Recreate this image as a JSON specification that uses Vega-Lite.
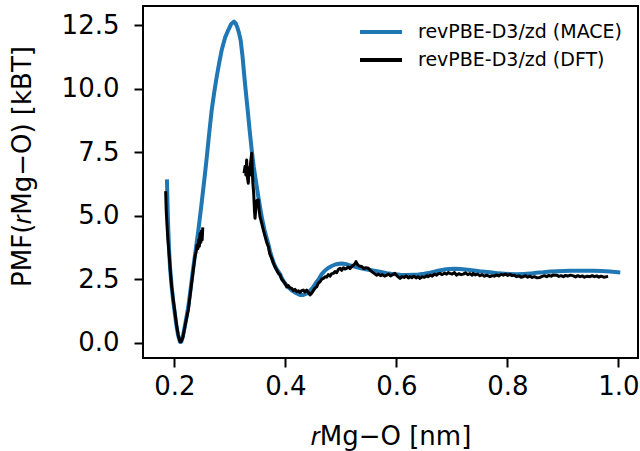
{
  "$schema": "https://vega.github.io/schema/vega-lite/v6.json",
  "width": 495,
  "height": 352,
  "autosize": {"type": "none"},
  "padding": {"left": 143, "top": 6, "right": 2, "bottom": 93},
  "background": "white",
  "config": {
    "font": "DejaVu Sans",
    "view": {"stroke": "black", "strokeWidth": 2},
    "axis": {
      "domain": false, "grid": false,
      "tickColor": "black", "tickWidth": 2, "tickSize": 9,
      "labelFont": "DejaVu Sans", "labelFontSize": 26, "labelColor": "black",
      "titleFont": "DejaVu Sans", "titleFontSize": 26, "titleFontWeight": "normal", "titleColor": "black"
    }
  },
  "datasets": {
    "mace": [
      {"r":0.1868,"pmf":6.35},{"r":0.1875,"pmf":5.7},{"r":0.1882,"pmf":5.1},{"r":0.189,"pmf":4.55},{"r":0.1905,"pmf":3.7},
      {"r":0.1925,"pmf":2.9},{"r":0.1953,"pmf":2.2},{"r":0.198,"pmf":1.65},{"r":0.2013,"pmf":1.1},{"r":0.204,"pmf":0.65},
      {"r":0.207,"pmf":0.28},{"r":0.2103,"pmf":0.03},{"r":0.2125,"pmf":0.03},{"r":0.2155,"pmf":0.25},{"r":0.219,"pmf":0.65},
      {"r":0.222,"pmf":1.02},{"r":0.2252,"pmf":1.42},{"r":0.229,"pmf":2.05},{"r":0.233,"pmf":2.75},{"r":0.2373,"pmf":3.45},
      {"r":0.2432,"pmf":4.4},{"r":0.249,"pmf":5.45},{"r":0.2553,"pmf":6.65},{"r":0.2584,"pmf":7.28},{"r":0.2629,"pmf":8.25},
      {"r":0.2674,"pmf":9.16},{"r":0.2719,"pmf":9.85},{"r":0.2764,"pmf":10.47},{"r":0.2809,"pmf":11.02},{"r":0.2854,"pmf":11.52},
      {"r":0.2913,"pmf":12.0},{"r":0.2973,"pmf":12.31},{"r":0.3025,"pmf":12.55},{"r":0.3076,"pmf":12.64},{"r":0.3105,"pmf":12.58},
      {"r":0.3135,"pmf":12.42},{"r":0.3165,"pmf":12.2},{"r":0.3196,"pmf":11.9},{"r":0.3228,"pmf":11.3},{"r":0.3261,"pmf":10.5},
      {"r":0.3292,"pmf":9.8},{"r":0.3322,"pmf":9.16},{"r":0.3358,"pmf":8.35},{"r":0.3394,"pmf":7.6},{"r":0.343,"pmf":6.95},
      {"r":0.3475,"pmf":6.3},{"r":0.351,"pmf":5.8},{"r":0.3544,"pmf":5.35},{"r":0.3584,"pmf":4.85},{"r":0.3624,"pmf":4.45},
      {"r":0.366,"pmf":4.15},{"r":0.3695,"pmf":3.88},{"r":0.3725,"pmf":3.6},{"r":0.3755,"pmf":3.38},{"r":0.3785,"pmf":3.18},
      {"r":0.3815,"pmf":3.02},{"r":0.3845,"pmf":2.9},{"r":0.3875,"pmf":2.8},{"r":0.3905,"pmf":2.7},{"r":0.3935,"pmf":2.55},
      {"r":0.397,"pmf":2.42},{"r":0.4,"pmf":2.32},{"r":0.4054,"pmf":2.18},{"r":0.412,"pmf":2.05},{"r":0.42,"pmf":1.95},
      {"r":0.4265,"pmf":1.88},{"r":0.4325,"pmf":1.88},{"r":0.438,"pmf":1.93},{"r":0.444,"pmf":2.03},{"r":0.45,"pmf":2.18},
      {"r":0.455,"pmf":2.35},{"r":0.4595,"pmf":2.48},{"r":0.4656,"pmf":2.7},{"r":0.4706,"pmf":2.82},{"r":0.4766,"pmf":2.93},
      {"r":0.4836,"pmf":3.02},{"r":0.49,"pmf":3.08},{"r":0.4966,"pmf":3.11},{"r":0.5016,"pmf":3.12},{"r":0.508,"pmf":3.1},
      {"r":0.515,"pmf":3.05},{"r":0.5246,"pmf":3.0},{"r":0.5346,"pmf":2.94},{"r":0.545,"pmf":2.89},{"r":0.5575,"pmf":2.84},
      {"r":0.5706,"pmf":2.79},{"r":0.583,"pmf":2.74},{"r":0.596,"pmf":2.7},{"r":0.6067,"pmf":2.68},{"r":0.6187,"pmf":2.67},
      {"r":0.63,"pmf":2.68},{"r":0.64,"pmf":2.69},{"r":0.65,"pmf":2.72},{"r":0.6607,"pmf":2.76},{"r":0.6707,"pmf":2.81},
      {"r":0.68,"pmf":2.85},{"r":0.69,"pmf":2.89},{"r":0.6967,"pmf":2.9},{"r":0.705,"pmf":2.91},{"r":0.7147,"pmf":2.9},
      {"r":0.7237,"pmf":2.88},{"r":0.7327,"pmf":2.86},{"r":0.75,"pmf":2.81},{"r":0.7688,"pmf":2.77},{"r":0.785,"pmf":2.73},
      {"r":0.8,"pmf":2.71},{"r":0.8168,"pmf":2.7},{"r":0.83,"pmf":2.71},{"r":0.84,"pmf":2.72},{"r":0.8525,"pmf":2.75},
      {"r":0.8649,"pmf":2.77},{"r":0.878,"pmf":2.8},{"r":0.89,"pmf":2.81},{"r":0.913,"pmf":2.83},{"r":0.935,"pmf":2.83},
      {"r":0.955,"pmf":2.83},{"r":0.97,"pmf":2.82},{"r":0.985,"pmf":2.8},{"r":1.0,"pmf":2.77}
    ],
    "dft": [
      {"r":0.1845,"pmf":5.91,"seg":1},{"r":0.1853,"pmf":5.3,"seg":1},{"r":0.1863,"pmf":4.83,"seg":1},{"r":0.1883,"pmf":4.1,"seg":1},
      {"r":0.1905,"pmf":3.52,"seg":1},{"r":0.193,"pmf":2.8,"seg":1},{"r":0.1953,"pmf":2.2,"seg":1},{"r":0.1983,"pmf":1.65,"seg":1},
      {"r":0.2013,"pmf":1.16,"seg":1},{"r":0.204,"pmf":0.7,"seg":1},{"r":0.207,"pmf":0.3,"seg":1},{"r":0.2103,"pmf":0.04,"seg":1},
      {"r":0.2125,"pmf":0.05,"seg":1},{"r":0.2155,"pmf":0.22,"seg":1},{"r":0.218,"pmf":0.5,"seg":1},{"r":0.2215,"pmf":0.9,"seg":1},
      {"r":0.2252,"pmf":1.29,"seg":1},{"r":0.229,"pmf":1.95,"seg":1},{"r":0.233,"pmf":2.65,"seg":1},{"r":0.2373,"pmf":3.39,"seg":1},
      {"r":0.2395,"pmf":3.6,"seg":1},{"r":0.241,"pmf":3.85,"seg":1},{"r":0.2425,"pmf":3.7,"seg":1},{"r":0.244,"pmf":4.05,"seg":1},
      {"r":0.2452,"pmf":3.8,"seg":1},{"r":0.2465,"pmf":4.3,"seg":1},{"r":0.2478,"pmf":3.95,"seg":1},{"r":0.249,"pmf":4.4,"seg":1},
      {"r":0.2502,"pmf":4.05,"seg":1},{"r":0.2512,"pmf":4.48,"seg":1},
      {"r":0.3261,"pmf":6.73,"seg":2},{"r":0.3275,"pmf":6.95,"seg":2},{"r":0.329,"pmf":6.6,"seg":2},{"r":0.3304,"pmf":7.19,"seg":2},
      {"r":0.3318,"pmf":6.5,"seg":2},{"r":0.3333,"pmf":6.28,"seg":2},{"r":0.3348,"pmf":6.9,"seg":2},{"r":0.336,"pmf":6.6,"seg":2},
      {"r":0.3375,"pmf":7.1,"seg":2},{"r":0.3394,"pmf":7.46,"seg":2},{"r":0.3405,"pmf":6.8,"seg":2},{"r":0.3415,"pmf":6.3,"seg":2},
      {"r":0.343,"pmf":5.9,"seg":2},{"r":0.3445,"pmf":5.2,"seg":2},{"r":0.3454,"pmf":4.9,"seg":2},{"r":0.347,"pmf":5.3,"seg":2},
      {"r":0.349,"pmf":5.6,"seg":2},{"r":0.3514,"pmf":5.62,"seg":2},{"r":0.353,"pmf":5.2,"seg":2},{"r":0.3544,"pmf":4.96,"seg":2},
      {"r":0.3575,"pmf":4.7,"seg":2},{"r":0.3604,"pmf":4.44,"seg":2},{"r":0.364,"pmf":4.15,"seg":2},{"r":0.3665,"pmf":3.95,"seg":2},
      {"r":0.3695,"pmf":3.78,"seg":2},{"r":0.372,"pmf":3.5,"seg":2},{"r":0.375,"pmf":3.35,"seg":2},{"r":0.3785,"pmf":3.13,"seg":2},
      {"r":0.3815,"pmf":2.98,"seg":2},{"r":0.3845,"pmf":2.86,"seg":2},{"r":0.3875,"pmf":2.73,"seg":2},{"r":0.3905,"pmf":2.67,"seg":2},
      {"r":0.3935,"pmf":2.5,"seg":2},{"r":0.3965,"pmf":2.42,"seg":2},{"r":0.3995,"pmf":2.34,"seg":2},{"r":0.4025,"pmf":2.2,"seg":2},
      {"r":0.4055,"pmf":2.25,"seg":2},{"r":0.4085,"pmf":2.15,"seg":2},{"r":0.4115,"pmf":2.14,"seg":2},{"r":0.4145,"pmf":2.05,"seg":2},
      {"r":0.4175,"pmf":2.1,"seg":2},{"r":0.421,"pmf":2.01,"seg":2},{"r":0.424,"pmf":2.04,"seg":2},{"r":0.4265,"pmf":1.98,"seg":2},
      {"r":0.4295,"pmf":2.05,"seg":2},{"r":0.4325,"pmf":2.07,"seg":2},{"r":0.4355,"pmf":2.0,"seg":2},{"r":0.4385,"pmf":2.07,"seg":2},
      {"r":0.4415,"pmf":1.98,"seg":2},{"r":0.4445,"pmf":1.88,"seg":2},{"r":0.4475,"pmf":1.95,"seg":2},{"r":0.4505,"pmf":2.05,"seg":2},
      {"r":0.4535,"pmf":2.15,"seg":2},{"r":0.4566,"pmf":2.2,"seg":2},{"r":0.4596,"pmf":2.35,"seg":2},{"r":0.4626,"pmf":2.4,"seg":2},
      {"r":0.4656,"pmf":2.5,"seg":2},{"r":0.4686,"pmf":2.53,"seg":2},{"r":0.4716,"pmf":2.6,"seg":2},{"r":0.4745,"pmf":2.58,"seg":2},
      {"r":0.4775,"pmf":2.68,"seg":2},{"r":0.4806,"pmf":2.62,"seg":2},{"r":0.4836,"pmf":2.72,"seg":2},{"r":0.4866,"pmf":2.73,"seg":2},
      {"r":0.4896,"pmf":2.8,"seg":2},{"r":0.4926,"pmf":2.76,"seg":2},{"r":0.4956,"pmf":2.88,"seg":2},{"r":0.4986,"pmf":2.93,"seg":2},
      {"r":0.5016,"pmf":2.85,"seg":2},{"r":0.5046,"pmf":2.95,"seg":2},{"r":0.5076,"pmf":2.9,"seg":2},{"r":0.5106,"pmf":2.93,"seg":2},
      {"r":0.5136,"pmf":2.98,"seg":2},{"r":0.5166,"pmf":2.92,"seg":2},{"r":0.5196,"pmf":3.0,"seg":2},{"r":0.5226,"pmf":3.05,"seg":2},
      {"r":0.5256,"pmf":3.12,"seg":2},{"r":0.5274,"pmf":3.19,"seg":2},{"r":0.53,"pmf":3.08,"seg":2},{"r":0.533,"pmf":3.02,"seg":2},
      {"r":0.5377,"pmf":3.0,"seg":2},{"r":0.541,"pmf":2.92,"seg":2},{"r":0.545,"pmf":2.95,"seg":2},{"r":0.5496,"pmf":2.93,"seg":2},
      {"r":0.553,"pmf":2.85,"seg":2},{"r":0.557,"pmf":2.78,"seg":2},{"r":0.5607,"pmf":2.72,"seg":2},{"r":0.5647,"pmf":2.66,"seg":2},
      {"r":0.568,"pmf":2.7,"seg":2},{"r":0.5716,"pmf":2.64,"seg":2},{"r":0.575,"pmf":2.68,"seg":2},{"r":0.5787,"pmf":2.62,"seg":2},
      {"r":0.5827,"pmf":2.66,"seg":2},{"r":0.586,"pmf":2.7,"seg":2},{"r":0.5897,"pmf":2.63,"seg":2},{"r":0.5937,"pmf":2.68,"seg":2},
      {"r":0.5977,"pmf":2.73,"seg":2},{"r":0.6017,"pmf":2.62,"seg":2},{"r":0.6067,"pmf":2.53,"seg":2},{"r":0.61,"pmf":2.6,"seg":2},
      {"r":0.614,"pmf":2.57,"seg":2},{"r":0.6177,"pmf":2.63,"seg":2},{"r":0.6217,"pmf":2.55,"seg":2},{"r":0.6247,"pmf":2.6,"seg":2},
      {"r":0.628,"pmf":2.56,"seg":2},{"r":0.6317,"pmf":2.62,"seg":2},{"r":0.6357,"pmf":2.55,"seg":2},{"r":0.6397,"pmf":2.6,"seg":2},
      {"r":0.6427,"pmf":2.53,"seg":2},{"r":0.6467,"pmf":2.6,"seg":2},{"r":0.6507,"pmf":2.58,"seg":2},{"r":0.6547,"pmf":2.64,"seg":2},
      {"r":0.6577,"pmf":2.6,"seg":2},{"r":0.6607,"pmf":2.66,"seg":2},{"r":0.6647,"pmf":2.62,"seg":2},{"r":0.6687,"pmf":2.7,"seg":2},
      {"r":0.6727,"pmf":2.66,"seg":2},{"r":0.6757,"pmf":2.72,"seg":2},{"r":0.6787,"pmf":2.73,"seg":2},{"r":0.6827,"pmf":2.68,"seg":2},
      {"r":0.6867,"pmf":2.74,"seg":2},{"r":0.6907,"pmf":2.7,"seg":2},{"r":0.6937,"pmf":2.76,"seg":2},{"r":0.6967,"pmf":2.73,"seg":2},
      {"r":0.7007,"pmf":2.7,"seg":2},{"r":0.7047,"pmf":2.76,"seg":2},{"r":0.7088,"pmf":2.66,"seg":2},{"r":0.7127,"pmf":2.72,"seg":2},
      {"r":0.7167,"pmf":2.68,"seg":2},{"r":0.7207,"pmf":2.7,"seg":2},{"r":0.7247,"pmf":2.75,"seg":2},{"r":0.7287,"pmf":2.68,"seg":2},
      {"r":0.7327,"pmf":2.72,"seg":2},{"r":0.7367,"pmf":2.66,"seg":2},{"r":0.7387,"pmf":2.73,"seg":2},{"r":0.7427,"pmf":2.67,"seg":2},
      {"r":0.7467,"pmf":2.7,"seg":2},{"r":0.7507,"pmf":2.64,"seg":2},{"r":0.7547,"pmf":2.68,"seg":2},{"r":0.7587,"pmf":2.62,"seg":2},
      {"r":0.7627,"pmf":2.66,"seg":2},{"r":0.7688,"pmf":2.6,"seg":2},{"r":0.7727,"pmf":2.64,"seg":2},{"r":0.7767,"pmf":2.62,"seg":2},
      {"r":0.7807,"pmf":2.67,"seg":2},{"r":0.7847,"pmf":2.63,"seg":2},{"r":0.7887,"pmf":2.69,"seg":2},{"r":0.7927,"pmf":2.66,"seg":2},
      {"r":0.7967,"pmf":2.7,"seg":2},{"r":0.8007,"pmf":2.65,"seg":2},{"r":0.8048,"pmf":2.69,"seg":2},{"r":0.8088,"pmf":2.64,"seg":2},
      {"r":0.8128,"pmf":2.66,"seg":2},{"r":0.8168,"pmf":2.6,"seg":2},{"r":0.8208,"pmf":2.63,"seg":2},{"r":0.8248,"pmf":2.58,"seg":2},
      {"r":0.8288,"pmf":2.6,"seg":2},{"r":0.8328,"pmf":2.64,"seg":2},{"r":0.8368,"pmf":2.58,"seg":2},{"r":0.8408,"pmf":2.62,"seg":2},
      {"r":0.8448,"pmf":2.57,"seg":2},{"r":0.8488,"pmf":2.6,"seg":2},{"r":0.8528,"pmf":2.56,"seg":2},{"r":0.8589,"pmf":2.57,"seg":2},
      {"r":0.8629,"pmf":2.61,"seg":2},{"r":0.8669,"pmf":2.64,"seg":2},{"r":0.8709,"pmf":2.6,"seg":2},{"r":0.8749,"pmf":2.65,"seg":2},
      {"r":0.879,"pmf":2.62,"seg":2},{"r":0.883,"pmf":2.67,"seg":2},{"r":0.889,"pmf":2.66,"seg":2},{"r":0.893,"pmf":2.61,"seg":2},
      {"r":0.897,"pmf":2.64,"seg":2},{"r":0.901,"pmf":2.6,"seg":2},{"r":0.905,"pmf":2.65,"seg":2},{"r":0.909,"pmf":2.62,"seg":2},
      {"r":0.914,"pmf":2.66,"seg":2},{"r":0.919,"pmf":2.63,"seg":2},{"r":0.923,"pmf":2.59,"seg":2},{"r":0.927,"pmf":2.64,"seg":2},
      {"r":0.931,"pmf":2.6,"seg":2},{"r":0.935,"pmf":2.63,"seg":2},{"r":0.939,"pmf":2.58,"seg":2},{"r":0.944,"pmf":2.62,"seg":2},
      {"r":0.949,"pmf":2.6,"seg":2},{"r":0.953,"pmf":2.64,"seg":2},{"r":0.957,"pmf":2.6,"seg":2},{"r":0.961,"pmf":2.63,"seg":2},
      {"r":0.965,"pmf":2.58,"seg":2},{"r":0.969,"pmf":2.62,"seg":2},{"r":0.974,"pmf":2.58,"seg":2},{"r":0.979,"pmf":2.6,"seg":2}
    ]
  },
  "encoding": {
    "x": {"field": "r", "type": "quantitative",
      "scale": {"domain": [0.1436, 1.0355], "nice": false, "zero": false},
      "axis": {"values": [0.2, 0.4, 0.6, 0.8, 1.0], "format": ".1f", "labelPadding": 6, "title": "𝑟Mg−O [nm]", "titlePadding": 24}},
    "y": {"field": "pmf", "type": "quantitative",
      "scale": {"domain": [-0.602, 13.256], "nice": false, "zero": false},
      "axis": {"values": [0, 2.5, 5, 7.5, 10, 12.5], "format": ".1f", "labelPadding": 15, "title": "PMF(𝑟Mg−O) [kBT]", "titlePadding": 26, "titleY": 160}}
  },
  "layer": [
    {
      "data": {"name": "mace"},
      "mark": {"type": "line", "strokeWidth": 4, "strokeCap": "square", "strokeJoin": "round"},
      "encoding": {
        "color": {"datum": "revPBE-D3/zd (MACE)",
          "scale": {"domain": ["revPBE-D3/zd (MACE)", "revPBE-D3/zd (DFT)"], "range": ["#1f77b4", "#000000"]},
          "legend": {"title": null, "orient": "none", "legendX": 215, "legendY": 12, "symbolType": "stroke", "symbolSize": 1764,
            "symbolStrokeWidth": 4, "labelFont": "DejaVu Sans", "labelFontSize": 19, "labelColor": "black", "labelLimit": 0,
            "labelOffset": 14, "clipHeight": 28, "rowPadding": 0, "padding": 0}}
      }
    },
    {
      "data": {"name": "dft"},
      "mark": {"type": "line", "strokeWidth": 3, "strokeCap": "square", "strokeJoin": "round"},
      "encoding": {
        "color": {"datum": "revPBE-D3/zd (DFT)"},
        "detail": {"field": "seg", "type": "nominal"}
      }
    }
  ]
}
